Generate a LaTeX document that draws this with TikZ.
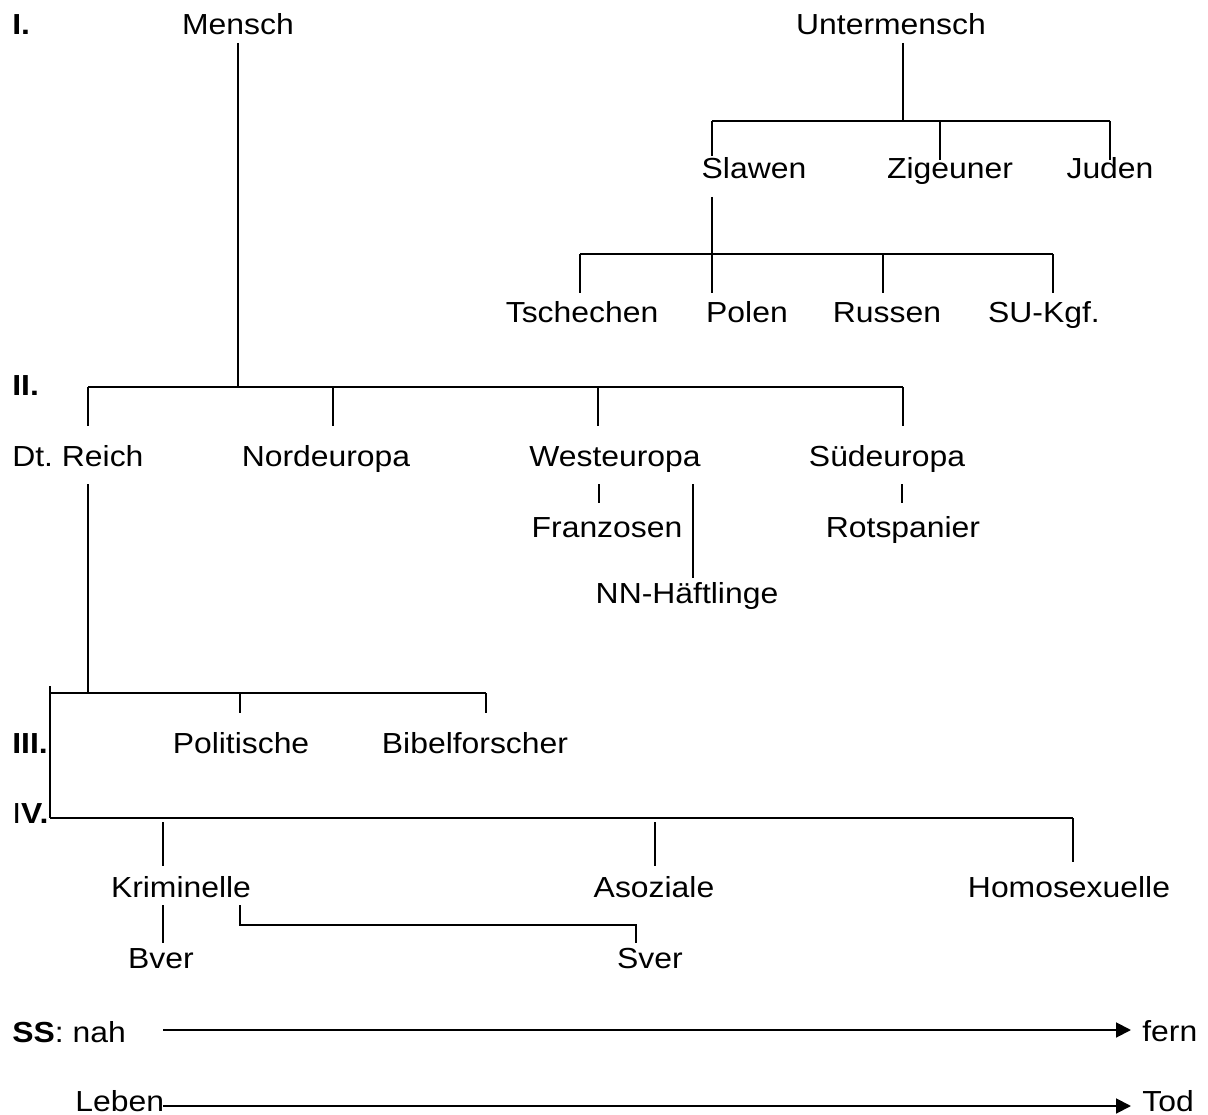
\documentclass[tikz,border=0pt]{standalone}
\usepackage{fontspec}
\setmainfont{Liberation Sans}[FakeStretch=1.1]
\usetikzlibrary{arrows.meta}
\frenchspacing

\tikzset{
  lbl/.style={inner sep=0pt, anchor=base, font=\fontsize{16.5}{20}\selectfont},
  lev/.style={lbl, anchor=base west},
  lnk/.style={line width=1.1pt},
  pfeil/.style={line width=1.1pt, -{Triangle[length=8.5pt,width=8.5pt]}}
}

\begin{document}
\begin{tikzpicture}[x=0.02cm, y=-0.02cm]
\useasboundingbox (0,0) rectangle (1208,1115);

% ===== Stufen =====
\node[lev] (stI)   at (12,35)  {\bfseries I.};
\node[lev] (stII)  at (12,395) {\bfseries II.};
\node[lev] (stIII) at (12,753) {\bfseries III.};
\node[lev] (stIV)  at (12,823) {I\bfseries V.};

% ===== Begriffe =====
\node[lbl] (mensch) at (238,35) {Mensch};
\node[lbl] (unter)  at (891,35) {Untermensch};

\node[lbl] (slawen) at (754,179)  {Slawen};
\node[lbl] (zig)    at (950,179)  {Zigeuner};
\node[lbl] (juden)  at (1110,179) {Juden};

\node[lbl] (tsch)   at (582,322)  {Tschechen};
\node[lbl] (polen)  at (747,322)  {Polen};
\node[lbl] (russen) at (887,322)  {Russen};
\node[lbl] (sukgf)  at (1044,322) {SU-Kgf.};

\node[lev] (reich)  at (12,466)   {Dt. Reich};
\node[lbl] (nord)   at (326,466)  {Nordeuropa};
\node[lbl] (west)   at (615,466)  {Westeuropa};
\node[lbl] (sued)   at (887,466)  {Südeuropa};

\node[lbl] (franz)  at (607,537)  {Franzosen};
\node[lbl] (rotsp)  at (903,537)  {Rotspanier};
\node[lbl] (nn)     at (687,603)  {NN-Häftlinge};

\node[lbl] (polit)  at (241,753)  {Politische};
\node[lbl] (bibel)  at (475,753)  {Bibelforscher};

\node[lbl] (krim)   at (181,897)  {Kriminelle};
\node[lbl] (asoz)   at (654,897)  {Asoziale};
\node[lbl] (homo)   at (1069,897) {Homosexuelle};

\node[lbl] (bver)   at (161,968)  {Bver};
\node[lbl] (sver)   at (650,968)  {Sver};

% ===== Linien I / II =====
\draw[lnk] (238,43) coordinate (menschA) -- (238,387) coordinate (menschB);
\draw[lnk] (88,387) coordinate (iiW) -- (903,387) coordinate (iiE);
\foreach \x in {88,333,598,903} {
    \draw[lnk] (\x,387) -- (\x,426);
}

\draw[lnk] (903,43) coordinate (unterA) -- (903,121) coordinate (unterB);
\draw[lnk] (712,121) coordinate (uW) -- (1110,121) coordinate (uE);
\draw[lnk] (712,121) -- (712,156);
\draw[lnk] (940,121) -- (940,160);
\draw[lnk] (1110,121) -- (1110,160);

\draw[lnk] (712,197) coordinate (slawA) -- (712,293) coordinate (slawB);
\draw[lnk] (580,254) coordinate (sW) -- (1053,254) coordinate (sE);
\foreach \x in {580,883,1053} {
    \draw[lnk] (\x,254) -- (\x,293);
}

\draw[lnk] (599,484) -- (599,503);
\draw[lnk] (693,484) -- (693,578);
\draw[lnk] (902,484) -- (902,503);

% ===== Linien III / IV =====
\draw[lnk] (88,484) coordinate (reichA) -- (88,693) coordinate (reichB);
\draw[lnk] (50,693) coordinate (iiiW) -- (486,693) coordinate (iiiE);
\draw[lnk] (240,693) -- (240,713);
\draw[lnk] (486,693) -- (486,713);
\draw[lnk] (50,686) -- (50,818);
\draw[lnk] (50,818) coordinate (ivW) -- (1073,818) coordinate (ivE);
\draw[lnk] (163,822) -- (163,866);
\draw[lnk] (655,822) -- (655,866);
\draw[lnk] (1073,818) -- (1073,862);

\draw[lnk] (163,905) -- (163,943);
\draw[lnk] (240,905) -- (240,925) -- (636,925) -- (636,943);

% ===== Achsen =====
\node[lev] (ss)    at (12,1042)   {\textbf{SS}: nah};
\node[lev] (fern)  at (1142,1041) {fern};
\node[lev] (leben) at (75,1111)   {Leben};
\node[lev] (tod)   at (1142,1111) {Tod};

\coordinate (ssA) at (163,1030);
\coordinate (ssB) at (1131,1030);
\draw[pfeil] (ssA) -- (ssB);

\coordinate (lebA) at (163,1106);
\coordinate (lebB) at (1131,1106);
\draw[pfeil] (lebA) -- (lebB);

\end{tikzpicture}
\end{document}
